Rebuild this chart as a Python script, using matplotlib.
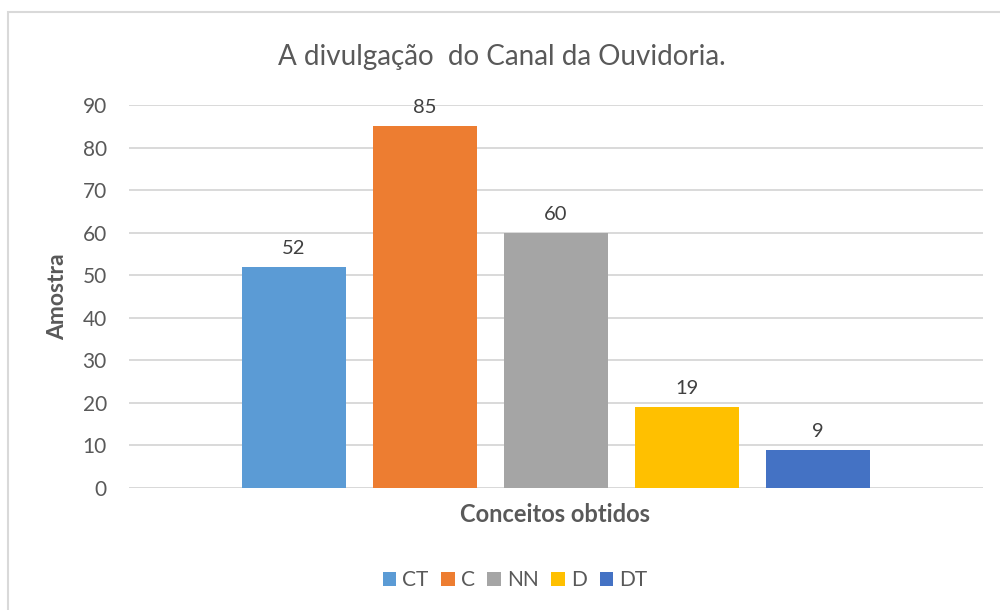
import matplotlib.pyplot as plt
from matplotlib.patches import Rectangle

categories = ['CT', 'C', 'NN', 'D', 'DT']
values = [52, 85, 60, 19, 9]
colors = ['#5B9BD5', '#ED7D31', '#A5A5A5', '#FFC000', '#4472C4']
yticks = [0, 10, 20, 30, 40, 50, 60, 70, 80, 90]

plt.rcParams['font.family'] = ['Lato', 'DejaVu Sans']
text_color = '#595959'

fig = plt.figure(figsize=(10, 6.1), dpi=100)
# plot area: y=0 at 488 px, y=90 at ~105 px
ax = fig.add_axes([0.129, 1 - 488 / 610, 0.854, 383 / 610])

# chart frame (light gray border like Excel)
fig.patches.append(Rectangle((0.008, -0.1), 1.1, 1.08, transform=fig.transFigure,
                             fill=False, edgecolor='#D9D9D9', linewidth=1.5))

width = 0.794
for i, (cat, v, c) in enumerate(zip(categories, values, colors)):
    ax.bar(i, v, width=width, color=c, label=cat, zorder=3)
    ax.text(i, v + 2.3, str(v), ha='center', va='bottom', fontsize=14.5, color='#404040')

ax.set_xlim(-1.26, 5.26)
ax.set_ylim(0, 90)
ax.set_yticks(yticks)
ax.set_xticks([])
ax.grid(axis='y', color='#D9D9D9', linewidth=1.4, zorder=0)
for s in ax.spines.values():
    s.set_visible(False)
ax.axhline(0, color='#D9D9D9', linewidth=1.8, zorder=2)
ax.tick_params(axis='y', length=0, labelsize=15, labelcolor=text_color, pad=16)

ax.set_ylabel('Amostra', fontsize=16.5, fontweight='bold', color=text_color)
ax.yaxis.set_label_coords(-0.071, 0.5)
fig.text(0.5555, 1 - 515 / 610, 'Conceitos obtidos', ha='center', va='center',
         fontsize=17, fontweight='bold', color=text_color)
fig.text(0.502, 1 - 57 / 610, 'A divulgação  do Canal da Ouvidoria.', ha='center', va='center',
         fontsize=20, color=text_color)

leg = fig.legend(loc='center', bbox_to_anchor=(0.515, 1 - 580 / 610), ncol=5, frameon=False,
                 fontsize=15, handlelength=0.65, handleheight=0.65, handletextpad=0.3,
                 columnspacing=0.6)
for t in leg.get_texts():
    t.set_color(text_color)

fig.savefig('out.png', dpi=100)
